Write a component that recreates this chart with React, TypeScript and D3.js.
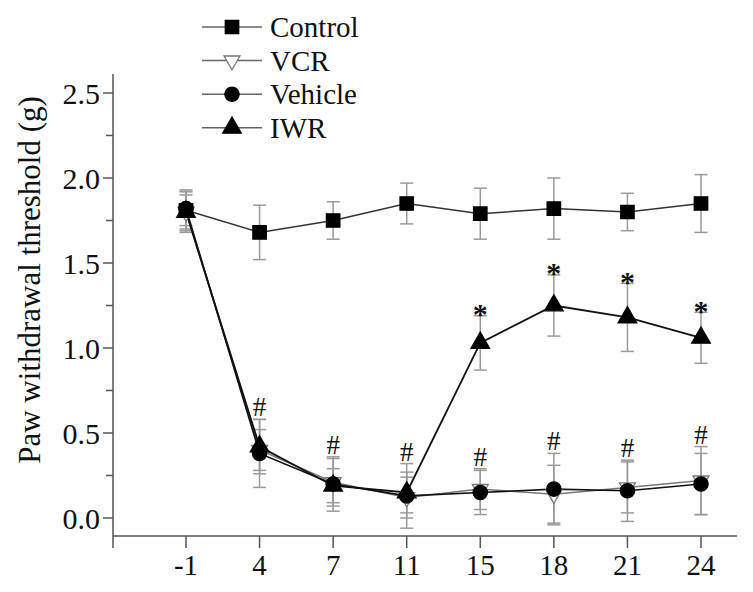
import React from "react";
import * as d3 from "d3";

const days = ["-1", "4", "7", "11", "15", "18", "21", "24"];
const yTicks = [0, 0.5, 1.0, 1.5, 2.0, 2.5];
const yMinorTicks = [0.25, 0.75, 1.25, 1.75, 2.25];

const controlMean = [1.81, 1.68, 1.75, 1.85, 1.79, 1.82, 1.80, 1.85];
const controlErr = [0.12, 0.16, 0.11, 0.12, 0.15, 0.18, 0.11, 0.17];
const vcrMean = [1.80, 0.40, 0.21, 0.12, 0.17, 0.14, 0.18, 0.22];
const vcrErr = [0.10, 0.12, 0.14, 0.12, 0.12, 0.17, 0.15, 0.20];
const vehicleMean = [1.82, 0.38, 0.20, 0.13, 0.15, 0.17, 0.16, 0.20];
const vehicleErr = [0.10, 0.20, 0.16, 0.19, 0.13, 0.21, 0.18, 0.18];
const iwrMean = [1.80, 0.42, 0.19, 0.15, 1.03, 1.25, 1.18, 1.06];
const iwrErr = [0.12, 0.16, 0.10, 0.12, 0.16, 0.18, 0.20, 0.15];

const hashDays = ["4", "7", "11", "15", "18", "21", "24"];
const starDays = ["15", "18", "21", "24"];

const seriesNames = ["Control", "VCR", "Vehicle", "IWR"];

const FONT = "'Liberation Serif', 'Times New Roman', 'DejaVu Serif', serif";
const TXT: React.CSSProperties = { fontFamily: FONT };

type Series = {
  name: string;
  mean: number[];
  err: number[];
  line: string;
  lineWidth: number;
  symbol: d3.SymbolType;
  size: number;
  fill: string;
  stroke: string;
  rotate?: number;
};

const series: Series[] = [
  { name: seriesNames[0], mean: controlMean, err: controlErr, line: "#333", lineWidth: 1.5, symbol: d3.symbolSquare, size: 180, fill: "#000", stroke: "#000" },
  { name: seriesNames[1], mean: vcrMean, err: vcrErr, line: "#777", lineWidth: 1.5, symbol: d3.symbolTriangle, size: 110, fill: "#fff", stroke: "#777", rotate: 180 },
  { name: seriesNames[2], mean: vehicleMean, err: vehicleErr, line: "#111", lineWidth: 1.6, symbol: d3.symbolCircle, size: 160, fill: "#000", stroke: "#000" },
  { name: seriesNames[3], mean: iwrMean, err: iwrErr, line: "#111", lineWidth: 1.8, symbol: d3.symbolTriangle, size: 150, fill: "#000", stroke: "#000" },
];

export default function App() {
  const W = 753, H = 592;
  const x = d3.scalePoint<string>().domain(days).range([186, 701]);
  const y = d3.scaleLinear().domain([0, 2.5]).range([518, 93]);
  const axisX0 = 113, axisX1 = 737, axisY = 536, axisTop = 74;
  const line = d3.line<number>().x((_, i) => x(days[i])!).y((v) => y(v));

  const lowTop = days.map((_, i) =>
    Math.max(vcrMean[i] + vcrErr[i], vehicleMean[i] + vehicleErr[i])
  );

  return (
    <svg width={W} height={H} style={{ position: "absolute", left: 0, top: 0, background: "#fff", fontFamily: FONT }}>
      {/* error bars */}
      {series.map((s) => (
        <g key={"e" + s.name} stroke="#9a9a9a" strokeWidth={1.5}>
          {s.mean.map((m, i) => {
            const cx = x(days[i])!;
            const t = y(m + s.err[i]);
            const b = y(m - s.err[i]);
            return (
              <g key={i}>
                <line x1={cx} x2={cx} y1={t} y2={b} />
                <line x1={cx - 6.5} x2={cx + 6.5} y1={t} y2={t} />
                <line x1={cx - 6.5} x2={cx + 6.5} y1={b} y2={b} />
              </g>
            );
          })}
        </g>
      ))}
      {/* lines */}
      {series.map((s) => (
        <path key={"l" + s.name} d={line(s.mean)!} fill="none" stroke={s.line} strokeWidth={s.lineWidth} />
      ))}
      {/* markers */}
      {series.map((s) => (
        <g key={"m" + s.name}>
          {s.mean.map((m, i) => (
            <path
              key={i}
              d={d3.symbol().type(s.symbol).size(s.size)()!}
              transform={`translate(${x(days[i])},${y(m)})${s.rotate ? ` rotate(${s.rotate})` : ""}`}
              fill={s.fill}
              stroke={s.stroke}
              strokeWidth={1.3}
            />
          ))}
        </g>
      ))}
      {/* annotations */}
      {hashDays.map((d) => {
        const i = days.indexOf(d);
        return (
          <text key={"h" + d} x={x(d)} y={y(lowTop[i]) - 12} dy="0.33em" textAnchor="middle" fontSize={27} fill="#111" style={TXT}>#</text>
        );
      })}
      {starDays.map((d) => {
        const i = days.indexOf(d);
        return (
          <text key={"s" + d} x={x(d)} y={y(iwrMean[i] + iwrErr[i]) - 9} dy="0.58em" textAnchor="middle" fontSize={30} fontWeight="bold" fill="#111" style={TXT}>*</text>
        );
      })}
      {/* axes */}
      <g stroke="#555" strokeWidth={1.5}>
        <line x1={axisX0} x2={axisX0} y1={axisTop} y2={axisY} />
        <line x1={axisX0} x2={axisX1} y1={axisY} y2={axisY} />
        {yTicks.map((t) => (
          <line key={"yt" + t} x1={axisX0 - 10} x2={axisX0} y1={y(t)} y2={y(t)} />
        ))}
        {yMinorTicks.map((t) => (
          <line key={"ym" + t} x1={axisX0 - 7} x2={axisX0} y1={y(t)} y2={y(t)} />
        ))}
        <line x1={axisX0} x2={axisX0} y1={axisY} y2={axisY + 12} />
        {days.map((d) => (
          <line key={"xt" + d} x1={x(d)} x2={x(d)} y1={axisY} y2={axisY + 12} />
        ))}
      </g>
      {yTicks.map((t) => (
        <text key={"yl" + t} x={axisX0 - 13} y={y(t)} dy="0.35em" textAnchor="end" fontSize={30} fill="#111" style={TXT}>
          {d3.format(".1f")(t)}
        </text>
      ))}
      {days.map((d) => (
        <text key={"xl" + d} x={x(d)} y={565} dy="0.35em" textAnchor="middle" fontSize={29} fill="#111" style={TXT}>
          {d}
        </text>
      ))}
      <text transform="translate(29,280) rotate(-90)" textAnchor="middle" dy="0.35em" fontSize={31} fill="#111" style={TXT}>
        Paw withdrawal threshold (g)
      </text>
      {/* legend */}
      {series.map((s, i) => {
        const ly = 27 + 33.6 * i;
        return (
          <g key={"lg" + s.name}>
            <line x1={202} x2={262} y1={ly} y2={ly} stroke="#666" strokeWidth={1.5} />
            <path
              d={d3.symbol().type(s.symbol).size(s.size)()!}
              transform={`translate(232,${ly})${s.rotate ? ` rotate(${s.rotate})` : ""}`}
              fill={s.fill}
              stroke={s.stroke}
              strokeWidth={1.3}
            />
            <text x={270} y={ly} dy="0.35em" fontSize={29} fill="#111" style={TXT}>{s.name}</text>
          </g>
        );
      })}
    </svg>
  );
}
